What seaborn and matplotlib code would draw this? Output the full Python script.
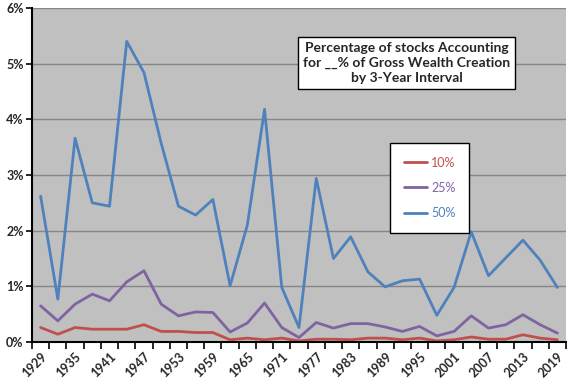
import numpy as np
import pandas as pd
import matplotlib
matplotlib.use("Agg")
import matplotlib.pyplot as plt
from matplotlib.ticker import PercentFormatter, FixedLocator
import seaborn as sns

# data: 3-year intervals, percentage of stocks
years = list(range(1929, 2020, 3))
pct_10 = [0.26, 0.14, 0.26, 0.23, 0.23, 0.23, 0.31, 0.19, 0.19, 0.17, 0.17,
          0.04, 0.07, 0.04, 0.07, 0.02, 0.05, 0.05, 0.04, 0.07, 0.07, 0.04,
          0.07, 0.02, 0.04, 0.09, 0.05, 0.05, 0.13, 0.07, 0.04]
pct_25 = [0.65, 0.38, 0.68, 0.86, 0.74, 1.08, 1.28, 0.68, 0.47, 0.54, 0.53,
          0.18, 0.34, 0.70, 0.26, 0.08, 0.35, 0.25, 0.33, 0.33, 0.27, 0.19,
          0.28, 0.11, 0.19, 0.47, 0.25, 0.31, 0.49, 0.31, 0.16]
pct_50 = [2.62, 0.77, 3.66, 2.50, 2.44, 5.40, 4.84, 3.57, 2.44, 2.28, 2.56,
          1.01, 2.10, 4.18, 0.98, 0.26, 2.94, 1.50, 1.89, 1.26, 0.99, 1.10,
          1.13, 0.48, 0.98, 1.98, 1.19, 1.51, 1.83, 1.47, 0.98]
series_names = ["10%", "25%", "50%"]
colors = ["#C0504D", "#8064A2", "#4F81BD"]

df = pd.DataFrame({"year": years, "10%": pct_10, "25%": pct_25, "50%": pct_50})
long = df.melt(id_vars="year", var_name="series", value_name="pct")

sns.set_theme(style="white")
plt.rcParams["font.family"] = ["Lato", "DejaVu Sans"]

fig = plt.figure(figsize=(5.76, 3.84), dpi=100)
ax = fig.add_axes([32 / 576, 1 - 342 / 384, 534 / 576, 334 / 384])
ax.set_facecolor("#C0C0C0")

sns.lineplot(data=long, x="year", y="pct", hue="series", hue_order=series_names,
             palette=colors, linewidth=2, ax=ax)

ax.set_xlim(1927.5, 2020.5)
ax.set_ylim(0, 6)
ax.set_yticks(range(0, 7))
ax.yaxis.set_major_formatter(PercentFormatter(decimals=0))
ax.grid(axis="y", color="#868686", linewidth=1)
ax.set_axisbelow(True)

ax.set_xticks(years[::2])
ax.set_xticklabels([str(y) for y in years[::2]], rotation=45, ha="right",
                   rotation_mode="anchor", fontweight="bold", fontsize=9)
ax.xaxis.set_minor_locator(FixedLocator(np.arange(1927.5, 2021, 3)))
ax.tick_params(axis="x", which="major", length=0, pad=6)
ax.tick_params(axis="x", which="minor", length=5, width=1.2, color="black",
               direction="out", bottom=True)
ax.tick_params(axis="y", length=4, width=1.2, color="black", direction="out",
               left=True, labelsize=9, pad=2)
for lbl in ax.get_yticklabels():
    lbl.set_fontweight("bold")

for s in ["top", "right"]:
    ax.spines[s].set_visible(False)
for s in ["left", "bottom"]:
    ax.spines[s].set_color("black")
    ax.spines[s].set_linewidth(1.5)

ax.set_xlabel("")
ax.set_ylabel("")

leg = ax.legend(loc="upper left", bbox_to_anchor=(0.67, 0.596), frameon=True,
                fancybox=False, edgecolor="black", facecolor="white",
                framealpha=1, fontsize=9, labelcolor="linecolor",
                handlelength=1.9, borderpad=1.1, labelspacing=1.05,
                handletextpad=0.3, borderaxespad=0)
leg.get_frame().set_linewidth(1)

ax.text(0.702, 0.835,
        "Percentage of stocks Accounting\nfor __% of Gross Wealth Creation\nby 3-Year Interval",
        transform=ax.transAxes, ha="center", va="center", fontsize=10,
        fontweight="bold", linespacing=1.3,
        bbox=dict(boxstyle="square,pad=0.35", facecolor="white",
                  edgecolor="black", linewidth=1))

fig.savefig("out.png", dpi=100)
